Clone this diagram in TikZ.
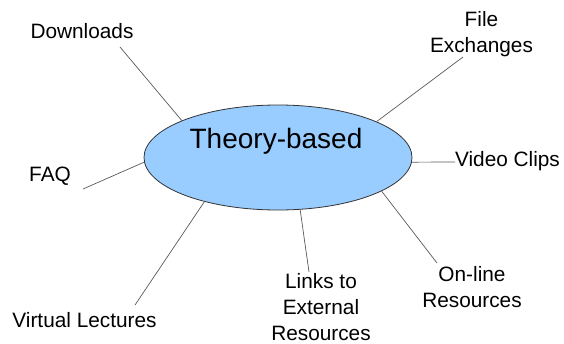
\documentclass[tikz,border=0pt]{standalone}
\usepackage{fontspec}
\setsansfont{Liberation Sans}
\usetikzlibrary{shapes.geometric,positioning}
\definecolor{bubble}{HTML}{99CCFF}
\tikzset{
    every node/.append style={font=\sffamily}}
\tikzset{
    topic/.style={font=\sffamily\fontsize{20.8}{26}\selectfont, align=center, inner sep=0pt},
    spoke/.style={draw=black!65, line width=0.7pt}}

\begin{document}
\begin{tikzpicture}[x=1pt,y=-1pt]
    \useasboundingbox (0,0) rectangle (564,343);

    \node[ellipse, draw=black!80, line width=0.8pt, fill=bubble, minimum width=268pt, minimum height=105pt, inner sep=0pt] (theory) at (278,157.5) {};
    \node[font=\sffamily\fontsize{28}{30}\selectfont, inner sep=0pt] (title) at (276,141) {Theory-based};

    \node[topic] (down) at (82,31) {Downloads};
    \node[topic] (faq) at (50,176) {FAQ};
    \node[topic] (files) at (481.5,34) {File\\Exchanges};
    \node[topic] (video) at (507.5,161) {Video Clips};
    \node[topic] (online) at (472,287) {On-line\\Resources};
    \node[topic] (links) at (321,307) {Links to\\External\\Resources};
    \node[topic] (lectures) at (84.5,320.5) {Virtual Lectures};

    \coordinate (down-end) at (120,47);
    \coordinate (faq-end) at (83,189);
    \coordinate (files-end) at (463,57);
    \coordinate (video-end) at (455,162);
    \coordinate (online-end) at (437,263);
    \coordinate (links-end) at (309,272);
    \coordinate (lectures-end) at (135,305);

    \path[spoke]
    (theory.159) edge (down-end)
    (theory.182) edge (faq-end)
    (theory.20) edge (files-end)
    (theory.-2) edge (video-end)
    (theory.-18) edge (online-end)
    (theory.-67) edge (links-end)
    (theory.211) edge (lectures-end);
\end{tikzpicture}
\end{document}
